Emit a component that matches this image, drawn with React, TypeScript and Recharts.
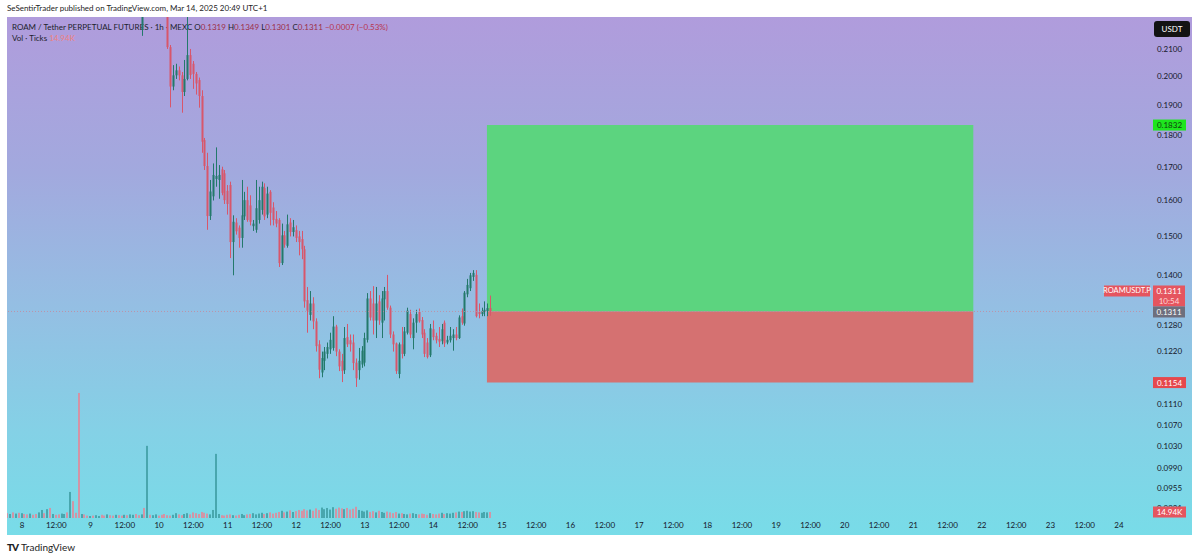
import React from 'react'
import { ComposedChart, Bar, XAxis, YAxis, ReferenceArea, ReferenceLine } from 'recharts'

// hours are counted from Mar 8 00:00 (UTC+1), 1h candles
const firstHour = -5
const candleStart = 42

// [open, high, low, close] from hour 42 on; null = candle above the visible range
const ohlc: ([number, number, number, number] | null)[] = [
  [0.2175, 0.229, 0.215, 0.225],
  null, null, null, null, null, null, null, null,
  [0.226, 0.228, 0.21, 0.2107],
  [0.2107, 0.2115, 0.1891, 0.1963],
  [0.1963, 0.204, 0.195, 0.2003],
  [0.2003, 0.2045, 0.199, 0.2021],
  [0.2021, 0.2035, 0.1985, 0.2003],
  [0.2003, 0.2015, 0.1873, 0.1944],
  [0.1944, 0.2059, 0.193, 0.199],
  [0.199, 0.224, 0.1985, 0.2077],
  [0.2077, 0.21, 0.199, 0.2004],
  [0.2045, 0.2055, 0.1955, 0.2008],
  [0.2008, 0.2015, 0.1935, 0.1974],
  [0.1986, 0.1995, 0.189, 0.193],
  [0.193, 0.195, 0.1743, 0.1778],
  [0.1783, 0.179, 0.169, 0.1702],
  [0.1702, 0.1743, 0.1518, 0.1556],
  [0.1556, 0.166, 0.1545, 0.1626],
  [0.1612, 0.171, 0.16, 0.1675],
  [0.1663, 0.176, 0.164, 0.1672],
  [0.166, 0.1705, 0.1605, 0.1675],
  [0.1692, 0.17, 0.1615, 0.1622],
  [0.168, 0.169, 0.159, 0.1601],
  [0.1628, 0.1645, 0.156, 0.159],
  [0.1645, 0.1655, 0.1443, 0.1485],
  [0.1485, 0.1558, 0.1399, 0.154],
  [0.1538, 0.155, 0.1505, 0.1514],
  [0.1524, 0.153, 0.147, 0.1496],
  [0.1496, 0.166, 0.147, 0.1558],
  [0.1555, 0.1625, 0.1545, 0.1601],
  [0.1601, 0.164, 0.154, 0.1545],
  [0.1586, 0.1615, 0.153, 0.154],
  [0.1528, 0.1545, 0.1515, 0.1535],
  [0.1518, 0.166, 0.151, 0.1578],
  [0.1545, 0.164, 0.1535, 0.1601],
  [0.1573, 0.1655, 0.156, 0.164],
  [0.1636, 0.165, 0.1545, 0.1555],
  [0.156, 0.164, 0.155, 0.162],
  [0.1625, 0.163, 0.153, 0.1565],
  [0.158, 0.1595, 0.153, 0.1545],
  [0.1548, 0.157, 0.1525, 0.1535],
  [0.1545, 0.155, 0.142, 0.143],
  [0.143, 0.1535, 0.1425, 0.1503],
  [0.1503, 0.1515, 0.147, 0.1478],
  [0.1475, 0.156, 0.147, 0.1533],
  [0.1538, 0.155, 0.15, 0.1512],
  [0.1512, 0.1545, 0.15, 0.1525],
  [0.1517, 0.153, 0.1485, 0.1496],
  [0.15, 0.1515, 0.145, 0.1485],
  [0.1493, 0.1515, 0.144, 0.1466],
  [0.1466, 0.1475, 0.132, 0.1335],
  [0.1338, 0.137, 0.1262, 0.1313],
  [0.1303, 0.136, 0.129, 0.133],
  [0.133, 0.1345, 0.127, 0.1288],
  [0.1288, 0.1295, 0.122, 0.1232],
  [0.1236, 0.1245, 0.1163, 0.1181],
  [0.1175, 0.122, 0.1165, 0.1206],
  [0.12, 0.123, 0.118, 0.122],
  [0.1215, 0.124, 0.1205, 0.123],
  [0.1225, 0.1262, 0.1215, 0.1246],
  [0.1228, 0.13, 0.1222, 0.1276],
  [0.1276, 0.128, 0.121, 0.122],
  [0.122, 0.1225, 0.1178, 0.1188],
  [0.12, 0.1215, 0.1155, 0.1178],
  [0.118, 0.1275, 0.1172, 0.125],
  [0.1252, 0.1282, 0.123, 0.1236],
  [0.1245, 0.1258, 0.122, 0.1236],
  [0.124, 0.1258, 0.118, 0.1195],
  [0.1196, 0.1205, 0.1145, 0.1163],
  [0.118, 0.1228, 0.116, 0.12],
  [0.1192, 0.1232, 0.1185, 0.1222],
  [0.1196, 0.1262, 0.1188, 0.125],
  [0.1246, 0.1355, 0.124, 0.1342],
  [0.1342, 0.136, 0.129, 0.1297],
  [0.133, 0.1372, 0.1258, 0.129],
  [0.129, 0.137, 0.125, 0.133],
  [0.1335, 0.135, 0.128, 0.129],
  [0.1285, 0.136, 0.125, 0.1342],
  [0.134, 0.137, 0.129, 0.136],
  [0.136, 0.14, 0.1315, 0.132],
  [0.132, 0.1325, 0.125, 0.1258],
  [0.1258, 0.1265, 0.122, 0.1236],
  [0.1238, 0.124, 0.1172, 0.1178],
  [0.1172, 0.124, 0.1163, 0.1236],
  [0.1236, 0.1275, 0.1205, 0.1215],
  [0.1215, 0.1275, 0.121, 0.1265],
  [0.1262, 0.132, 0.1258, 0.1313],
  [0.1305, 0.1315, 0.125, 0.1258],
  [0.125, 0.1295, 0.1225, 0.1285],
  [0.1285, 0.1315, 0.1262, 0.1305],
  [0.131, 0.1318, 0.1285, 0.1288],
  [0.1291, 0.1298, 0.125, 0.1258],
  [0.1262, 0.127, 0.1208, 0.1215],
  [0.124, 0.125, 0.1205, 0.1208],
  [0.1212, 0.1282, 0.1208, 0.1272],
  [0.127, 0.129, 0.1245, 0.1252],
  [0.1255, 0.1262, 0.1238, 0.1245],
  [0.1248, 0.1275, 0.123, 0.1242],
  [0.1243, 0.1282, 0.1236, 0.127],
  [0.1285, 0.129, 0.123, 0.1238],
  [0.124, 0.1255, 0.1236, 0.1246],
  [0.1245, 0.1275, 0.124, 0.1255],
  [0.125, 0.127, 0.1222, 0.1258],
  [0.1258, 0.1275, 0.1245, 0.125],
  [0.125, 0.1302, 0.1248, 0.1297],
  [0.13, 0.1318, 0.128, 0.1285],
  [0.1283, 0.136, 0.1278, 0.1356],
  [0.1352, 0.139, 0.1345, 0.1375],
  [0.1367, 0.1405, 0.136, 0.1399],
  [0.1395, 0.1412, 0.1385, 0.1405],
  [0.14, 0.1412, 0.1297, 0.13],
  [0.131, 0.133, 0.1295, 0.1305],
  [0.1305, 0.132, 0.13, 0.1312],
  [0.131, 0.1335, 0.13, 0.1315],
  [0.1312, 0.133, 0.13, 0.1319],
  [0.1319, 0.1349, 0.1301, 0.1311],
]

// volume (ticks, thousands) from hour -5 to 164
const volumes = [
  12, 10, 14, 11, 13,
  12, 10, 9, 11, 8, 10, 14, 20, 12, 22,
  25, 10, 8, 9, 11, 10,
  14, 65, 42, 13, 312, 10,
  9, 6, 5, 6, 7, 5, 8, 6, 9, 7, 6, 8, 7, 6, 8, 7, 9, 8, 10, 7, 9, 25,
  180,
  8, 7, 9, 6, 8, 10, 7, 6, 8, 12, 9, 7, 10, 12, 9, 14, 12, 10, 15, 13, 11, 9,
  20, 160,
  10, 7, 6, 8, 9, 7, 6, 8, 10, 7, 9,
  10, 12, 9, 11, 13, 10, 12, 14, 11, 13,
  15, 18, 14, 16, 19, 15, 17, 20, 18, 22, 19, 21, 18,
  24, 20, 26, 22, 25, 21, 27, 23, 26, 24, 22, 25, 21, 23, 28, 20,
  18, 16, 19, 15, 17, 14, 18, 15, 13, 16, 14, 12, 15,
  11, 12, 10, 9, 11, 12, 10, 9, 11, 10, 8, 12, 10, 9, 11, 13, 10, 12, 11, 13,
  14, 16, 15, 17, 18, 16, 17, 15, 14, 13, 15, 14,
  14.94,
]

// up/down of the hours whose candles are off the top (hour -5 .. 50)
const hiddenDir = 'dudud' + 'uddudduudu' + 'dudduu' + 'dudddu' + 'dduduudduddudduduuddud' + 'uduuddd'

const dayLabels = ['8', '9', '10', '11', '12', '13', '14', '15', '16', '17', '18', '19', '20', '21', '22', '23', '24']
const priceTicks = [0.21, 0.2, 0.19, 0.18, 0.17, 0.16, 0.15, 0.14, 0.128, 0.122, 0.111, 0.107, 0.103, 0.099, 0.0955, 0.0921]

const entryPrice = 0.1311
const targetPrice = 0.1832
const stopPrice = 0.1154
const positionFrom = 162.75
const positionTo = 333
const lastVolume = 14.94

const UP = '#23796b'
const DOWN = '#d8566b'
const FONT = 'Lato, "Open Sans", sans-serif'

const rows = volumes.map((v, i) => {
  const t = firstHour + i
  const c = t >= candleStart ? ohlc[t - candleStart] : null
  const up = c ? c[3] >= c[0] : hiddenDir[i] === 'u'
  return { t, v, c, up, hl: c ? [c[2], c[1]] : null }
})

const timeTicks = dayLabels.flatMap((_, i) => (i < dayLabels.length - 1 ? [i * 24, i * 24 + 12] : [i * 24]))

function CandleShape(props: any) {
  const { x, y, width, height, payload } = props
  if (!payload.c || height == null) return null
  const [o, hi, lo, c] = payload.c
  const top = height < 0 ? y + height : y
  const h = Math.abs(height)
  const span = Math.log(hi) - Math.log(lo)
  const py = (p: number) => (span > 0 ? top + ((Math.log(hi) - Math.log(p)) / span) * h : top)
  const cx = Math.round(x + width / 2) + 0.5
  const color = payload.up ? UP : DOWN
  const b1 = py(Math.max(o, c))
  const b2 = py(Math.min(o, c))
  return (
    <g>
      <line x1={cx} x2={cx} y1={top} y2={top + h} stroke={color} strokeWidth={1} />
      <rect x={cx - 1} y={b1} width={2} height={Math.max(1, b2 - b1)} fill={color} />
    </g>
  )
}

function VolShape(props: any) {
  const { x, y, width, height, payload } = props
  if (!height) return null
  const cx = Math.round(x + width / 2)
  return <rect x={cx - 1} y={y} width={2} height={height} fill={payload.up ? '#3f9ea3' : '#e0889a'} fillOpacity={0.85} />
}

function Badge(props: any) {
  const { viewBox, text, sub, bg, color, tag } = props
  if (!viewBox) return null
  const right = viewBox.x + viewBox.width
  const y = viewBox.y
  if (sub) {
    return (
      <g style={{ fontFamily: FONT }}>
        <rect x={right - 39} y={y - 26} width={46} height={11} fill="#e5555f" />
        <text x={right - 16} y={y - 20.5} fill="#fff" fontSize={7.5} textAnchor="middle" dominantBaseline="central">{tag}</text>
        <rect x={right + 10} y={y - 26} width={32} height={21} fill="#e5555f" />
        <text x={right + 26} y={y - 20.5} fill="#fff" fontSize={8} textAnchor="middle" dominantBaseline="central">{text}</text>
        <text x={right + 26} y={y - 10.5} fill="#ffd6d6" fontSize={8} textAnchor="middle" dominantBaseline="central">{sub}</text>
        <rect x={right + 10} y={y - 5} width={32} height={11} fill="#6e6f7d" />
        <text x={right + 26} y={y + 0.5} fill="#fff" fontSize={8} textAnchor="middle" dominantBaseline="central">{text}</text>
      </g>
    )
  }
  return (
    <g style={{ fontFamily: FONT }}>
      <rect x={right + 10} y={y - 5.5} width={33} height={11} fill={bg} />
      <text x={right + 26.5} y={y} fill={color} fontSize={8} textAnchor="middle" dominantBaseline="central">{text}</text>
    </g>
  )
}

export default function App() {
  return (
    <div style={{ position: 'absolute', left: 0, top: 0, width: 1199, height: 560, background: '#fff', fontFamily: FONT, overflow: 'hidden' }}>
      <div style={{ position: 'absolute', left: 7, top: 3, fontSize: 8, color: '#1d1d24' }}>
        SeSentirTrader published on TradingView.com, Mar 14, 2025 20:49 UTC+1
      </div>
      <div
        style={{
          position: 'absolute', left: 7, top: 17, width: 1185, height: 518,
          background: 'linear-gradient(180deg, #b09cdc 0%, #a2a9de 30%, #95bee3 55%, #84d1e6 80%, #78dce8 100%)',
        }}
      />
      <div style={{ position: 'absolute', left: 12, top: 22, fontSize: 8, color: '#1d1f2c', lineHeight: '11px', whiteSpace: 'pre' }}>
        <div>
          {'ROAM / Tether PERPETUAL FUTURES · 1h · MEXC '}
          O<span style={{ color: '#9c2f48' }}>0.1319</span>{' '}
          H<span style={{ color: '#9c2f48' }}>0.1349</span>{' '}
          L<span style={{ color: '#9c2f48' }}>0.1301</span>{' '}
          C<span style={{ color: '#9c2f48' }}>0.1311</span>{' '}
          <span style={{ color: '#b8344e' }}>−0.0007 (−0.53%)</span>
        </div>
        <div>
          {'Vol · Ticks '}
          <span style={{ color: '#ee8080' }}>14.94K</span>
        </div>
      </div>
      <div style={{ position: 'absolute', left: 7, top: 17 }}>
        <ComposedChart width={1185} height={518} data={rows} margin={{ top: 0, right: 0, bottom: 0, left: 0 }}>
          <XAxis
            xAxisId="p" dataKey="t" type="number" domain={[-5.25, 392.4]} allowDataOverflow
            ticks={timeTicks} interval={0} height={17}
            tickFormatter={(h: number) => (h % 24 === 0 ? dayLabels[h / 24] : '12:00')}
            axisLine={false} tickLine={false} tickSize={0} tickMargin={4}
            tick={{ fill: '#15172a', fontSize: 8 }}
          />
          <XAxis xAxisId="v" dataKey="t" type="number" domain={[-5.25, 392.4]} allowDataOverflow hide />
          <YAxis
            yAxisId="p" orientation="right" scale="log" domain={[0.0905, 0.2224]} allowDataOverflow
            ticks={priceTicks} interval={0} width={49}
            tickFormatter={(v: number) => v.toFixed(4)}
            axisLine={false} tickLine={false} tickSize={0} tickMargin={14}
            tick={{ fill: '#15172a', fontSize: 8 }}
          />
          <YAxis yAxisId="v" domain={[0, 1250]} hide />
          <ReferenceArea xAxisId="p" yAxisId="p" x1={positionFrom} x2={positionTo} y1={entryPrice} y2={targetPrice} fill="#5cd47f" fillOpacity={1} stroke="none" />
          <ReferenceArea xAxisId="p" yAxisId="p" x1={positionFrom} x2={positionTo} y1={stopPrice} y2={entryPrice} fill="#d57171" fillOpacity={1} stroke="none" />
          <ReferenceLine xAxisId="p" yAxisId="p" y={entryPrice} stroke="#c48a9c" strokeDasharray="1 2" strokeOpacity={0.8} zIndex={2500}
            label={<Badge text="0.1311" sub="10:54" tag="ROAMUSDT.P" />} />
          <ReferenceLine xAxisId="p" yAxisId="p" y={targetPrice} stroke="none" zIndex={2500}
            label={<Badge text="0.1832" bg="#1ee61e" color="#104010" />} />
          <ReferenceLine xAxisId="p" yAxisId="p" y={stopPrice} stroke="none" zIndex={2500}
            label={<Badge text="0.1154" bg="#e5484d" color="#fff" />} />
          <ReferenceLine xAxisId="v" yAxisId="v" y={lastVolume} stroke="none" zIndex={2500}
            label={<Badge text="14.94K" bg="#e5555f" color="#fff" />} />
          <Bar xAxisId="v" yAxisId="v" dataKey="v" barSize={2} shape={<VolShape />} isAnimationActive={false} />
          <Bar xAxisId="p" yAxisId="p" dataKey="hl" barSize={2} shape={<CandleShape />} isAnimationActive={false} />
        </ComposedChart>
      </div>
      <div style={{ position: 'absolute', left: 1154, top: 21, width: 36, height: 16, background: '#131313', borderRadius: 3, color: '#fff', fontSize: 8, lineHeight: '16px', textAlign: 'center' }}>
        USDT
      </div>
      <div style={{ position: 'absolute', left: 7, top: 541, fontSize: 10, color: '#1d1d24', display: 'flex', alignItems: 'center', gap: 3 }}>
        <span style={{ fontWeight: 900, fontSize: 10, letterSpacing: -1 }}>TV</span>
        <span>TradingView</span>
      </div>
    </div>
  )
}
